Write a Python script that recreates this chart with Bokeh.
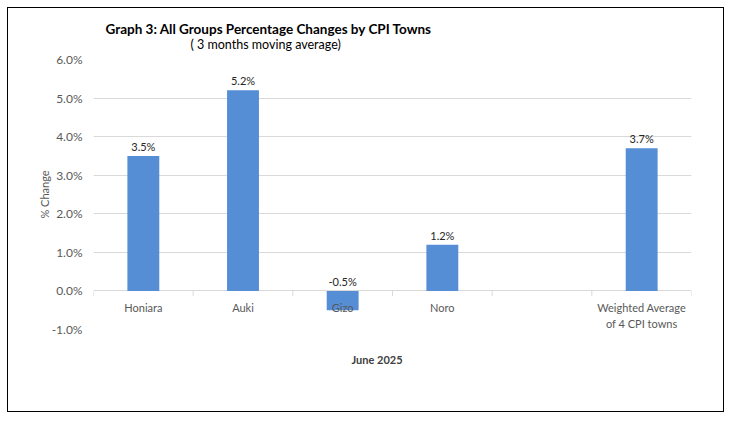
import math
from bokeh.plotting import figure
from bokeh.models import ColumnDataSource, Range1d, FixedTicker, PrintfTickFormatter, Title
from bokeh.core.properties import value
from bokeh.embed import file_html
from bokeh.resources import INLINE

categories = ["Honiara", "Auki", "Gizo", "Noro", "", "Weighted Average\nof 4 CPI towns"]
values = [3.5, 5.2, -0.5, 1.2, None, 3.7]
value_labels = ["3.5%", "5.2%", "-0.5%", "1.2%", "", "3.7%"]
y_ticks = [-1.0, 0.0, 1.0, 2.0, 3.0, 4.0, 5.0, 6.0]

title_text = "Graph 3: All Groups Percentage Changes by CPI Towns"
subtitle_text = "( 3 months moving average)"
x_title = "June  2025"
y_title = "% Change"

FONT = "Lato"
BAR = "#558ed5"
GRID = "#d9d9d9"

xs = [i + 0.5 for i in range(len(categories))]
bx, bv = [], []
for x, v in zip(xs, values):
    if v is not None:
        bx.append(x)
        bv.append(v)
bars = ColumnDataSource(dict(x=bx, top=bv))

lx, ly, lt = [], [], []
for x, v, t in zip(xs, values, value_labels):
    if v is not None:
        lx.append(x)
        ly.append(max(v, 0))
        lt.append(t)
labels = ColumnDataSource(dict(x=lx, y=ly, text=lt))
cx, ct = [], []
for x, c in zip(xs, categories):
    if c:
        cx.append(x)
        ct.append(c)
cats = ColumnDataSource(dict(x=cx, y=[0] * len(cx), text=ct))
bounds = list(range(len(categories) + 1))
ticks = ColumnDataSource(dict(x=bounds, y=[0] * len(bounds)))

p = figure(width=717, height=405, output_backend="svg", toolbar_location=None, title=None,
           x_range=Range1d(0, len(categories)), y_range=Range1d(y_ticks[0], y_ticks[-1]),
           min_border_left=85, min_border_right=34, min_border_top=51, min_border_bottom=84)
p.styles = {"margin": "7px", "border": "1px solid #000000"}
p.outline_line_color = None
p.background_fill_color = "white"
p.border_fill_color = "white"

p.vbar(x="x", top="top", bottom=0, width=0.32, source=bars, fill_color=BAR, line_color=None)

# category boundary tick marks below the zero line
p.ray(x="x", y="y", length=5, length_units="screen", angle=-math.pi / 2, source=ticks,
      line_color=GRID, line_width=1)

p.text(x="x", y="y", text="text", source=labels, text_align="center", text_baseline="bottom",
       y_offset=-3, text_font=value(FONT), text_font_size="11px", text_color="#262626")
p.text(x="x", y="y", text="text", source=cats, text_align="center", text_baseline="top",
       y_offset=10, text_font=value(FONT), text_font_size="11px", text_color="#595959",
       text_line_height=1.25)

# bottom axis kept only as an invisible spacer below the frame
p.xaxis.ticker = FixedTicker(ticks=[])
p.xaxis.axis_line_color = None
p.xaxis.major_tick_line_color = None
p.xaxis.minor_tick_line_color = None
p.xaxis.major_tick_in = 0
p.xaxis.major_tick_out = 20
p.xaxis.minor_tick_in = 0
p.xaxis.minor_tick_out = 0
p.xaxis.major_label_standoff = 0
p.xgrid.grid_line_color = None

p.yaxis.ticker = FixedTicker(ticks=y_ticks)
p.yaxis.formatter = PrintfTickFormatter(format="%.1f%%")
p.yaxis.axis_line_color = None
p.yaxis.major_tick_line_color = None
p.yaxis.minor_tick_line_color = None
p.yaxis.major_label_text_font = FONT
p.yaxis.major_label_text_font_size = "12px"
p.yaxis.major_label_text_color = "#595959"
p.yaxis.major_label_standoff = 5
p.yaxis.axis_label = y_title
p.yaxis.axis_label_text_font = FONT
p.yaxis.axis_label_text_font_size = "11px"
p.yaxis.axis_label_text_font_style = "normal"
p.yaxis.axis_label_text_color = "#595959"
p.yaxis.axis_label_standoff = -2
p.ygrid.ticker = FixedTicker(ticks=y_ticks)
p.ygrid.grid_line_color = GRID

p.add_layout(Title(text=subtitle_text, align="left", offset=97, text_font=FONT,
                   text_font_size="12.5px", text_font_style="normal", text_color="#000000",
                   standoff=16, text_line_height=0.5), "above")
p.add_layout(Title(text=title_text, align="left", offset=12, text_font=FONT,
                   text_font_size="13.5px", text_font_style="bold", text_color="#000000",
                   standoff=-20), "above")
p.add_layout(Title(text=x_title, align="left", offset=258, text_font=FONT,
                   text_font_size="11px", text_font_style="bold", text_color="#404040",
                   standoff=42), "below")

open("out.html", "w").write(file_html(p, INLINE))
